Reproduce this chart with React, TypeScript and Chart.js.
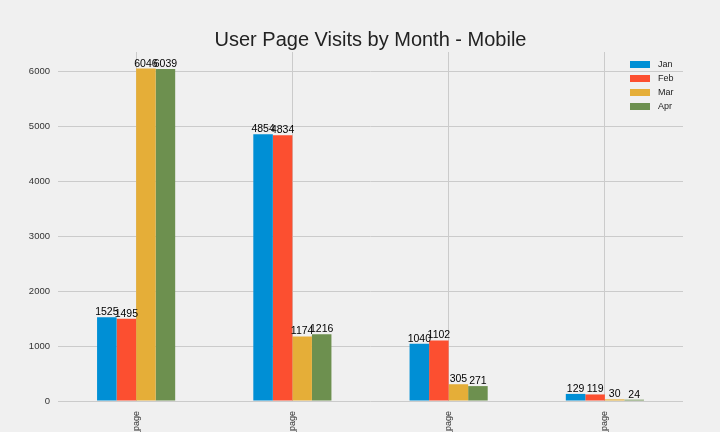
import React, { useEffect, useRef } from "react";
import { Chart, registerables } from "chart.js";

Chart.register(...registerables);

const TITLE = "User Page Visits by Month - Mobile";
const categories = ["home_page", "search_page", "payment_page", "payment_confirmation_page"];
const months = ["Jan", "Feb", "Mar", "Apr"];
const janValues = [1525, 4854, 1040, 129];
const febValues = [1495, 4834, 1102, 119];
const marValues = [6046, 1174, 305, 30];
const aprValues = [6039, 1216, 271, 24];
const yTicks = [0, 1000, 2000, 3000, 4000, 5000, 6000];
const colors = ["#008fd5", "#fc4f30", "#e5ae38", "#6d904f"];
const yMax = 6348;

const FONT = "'Liberation Sans', Arial, sans-serif";

const titlePlugin = {
  id: "customTitle",
  afterDraw(chart: any) {
    const { ctx, chartArea } = chart;
    ctx.save();
    ctx.font = `20px ${FONT}`;
    ctx.fillStyle = "#222222";
    ctx.textAlign = "center";
    ctx.textBaseline = "alphabetic";
    ctx.fillText(TITLE, (chartArea.left + chartArea.right) / 2, 45.5);
    ctx.restore();
  },
};

const valueLabelPlugin = {
  id: "valueLabels",
  afterDatasetsDraw(chart: any) {
    const { ctx } = chart;
    ctx.save();
    ctx.font = `10.5px ${FONT}`;
    ctx.fillStyle = "#000000";
    ctx.textAlign = "center";
    ctx.textBaseline = "alphabetic";
    chart.data.datasets.forEach((ds: any, i: number) => {
      const meta = chart.getDatasetMeta(i);
      meta.data.forEach((bar: any, j: number) => {
        ctx.fillText(String(ds.data[j]), bar.x, bar.y - 2);
      });
    });
    ctx.restore();
  },
};

const legendPlugin = {
  id: "insideLegend",
  afterDraw(chart: any) {
    const { ctx } = chart;
    ctx.save();
    ctx.font = `9px ${FONT}`;
    ctx.textAlign = "left";
    ctx.textBaseline = "middle";
    chart.data.datasets.forEach((ds: any, i: number) => {
      const y = 64.5 + i * 14;
      ctx.fillStyle = ds.backgroundColor;
      ctx.fillRect(630, y - 3.5, 20, 7);
      ctx.fillStyle = "#222222";
      ctx.fillText(ds.label, 658, y);
    });
    ctx.restore();
  },
};

const bgPlugin = {
  id: "bg",
  beforeDraw(chart: any) {
    const { ctx, width, height } = chart;
    ctx.save();
    ctx.fillStyle = "#f0f0f0";
    ctx.fillRect(0, 0, width, height);
    ctx.restore();
  },
};

export default function App() {
  const ref = useRef<HTMLCanvasElement>(null);
  useEffect(() => {
    if (!ref.current) return;
    Chart.defaults.font.family = FONT;
    const series = [janValues, febValues, marValues, aprValues];
    const chart = new Chart(ref.current, {
      type: "bar",
      data: {
        labels: categories,
        datasets: months.map((m, i) => ({
          label: m,
          data: series[i],
          backgroundColor: colors[i],
          borderWidth: 0,
          categoryPercentage: 0.5,
          barPercentage: 1.0,
        })),
      },
      options: {
        responsive: false,
        animation: false,
        layout: { padding: { top: 52, right: 37, left: 0, bottom: 0 } },
        plugins: {
          legend: { display: false },
          title: { display: false },
          tooltip: { enabled: false },
        },
        scales: {
          x: {
            grid: { color: "#cbcbcb", lineWidth: 1, offset: false, drawTicks: false },
            border: { display: false },
            ticks: {
              autoSkip: false,
              minRotation: 90,
              maxRotation: 90,
              padding: 10,
              color: "#333333",
              font: { size: 9, family: FONT },
            },
            afterFit(scale: any) {
              scale.height = 31;
            },
          },
          y: {
            min: 0,
            max: yMax,
            grid: { color: "#cbcbcb", lineWidth: 1, drawTicks: false },
            border: { display: false },
            ticks: {
              autoSkip: false,
              padding: 8,
              color: "#333333",
              font: { size: 9.5, family: FONT },
              callback: (v: any) => String(v),
            },
            afterBuildTicks(scale: any) {
              scale.ticks = yTicks.map((v) => ({ value: v }));
            },
            afterFit(scale: any) {
              scale.width = 58;
            },
          },
        },
      },
      plugins: [bgPlugin, valueLabelPlugin, legendPlugin, titlePlugin],
    });
    return () => chart.destroy();
  }, []);
  return (
    <div style={{ position: "fixed", left: 0, top: 0, width: 720, height: 432, overflow: "hidden", background: "#f0f0f0" }}>
      <canvas ref={ref} width={720} height={432} style={{ display: "block" }} />
    </div>
  );
}
